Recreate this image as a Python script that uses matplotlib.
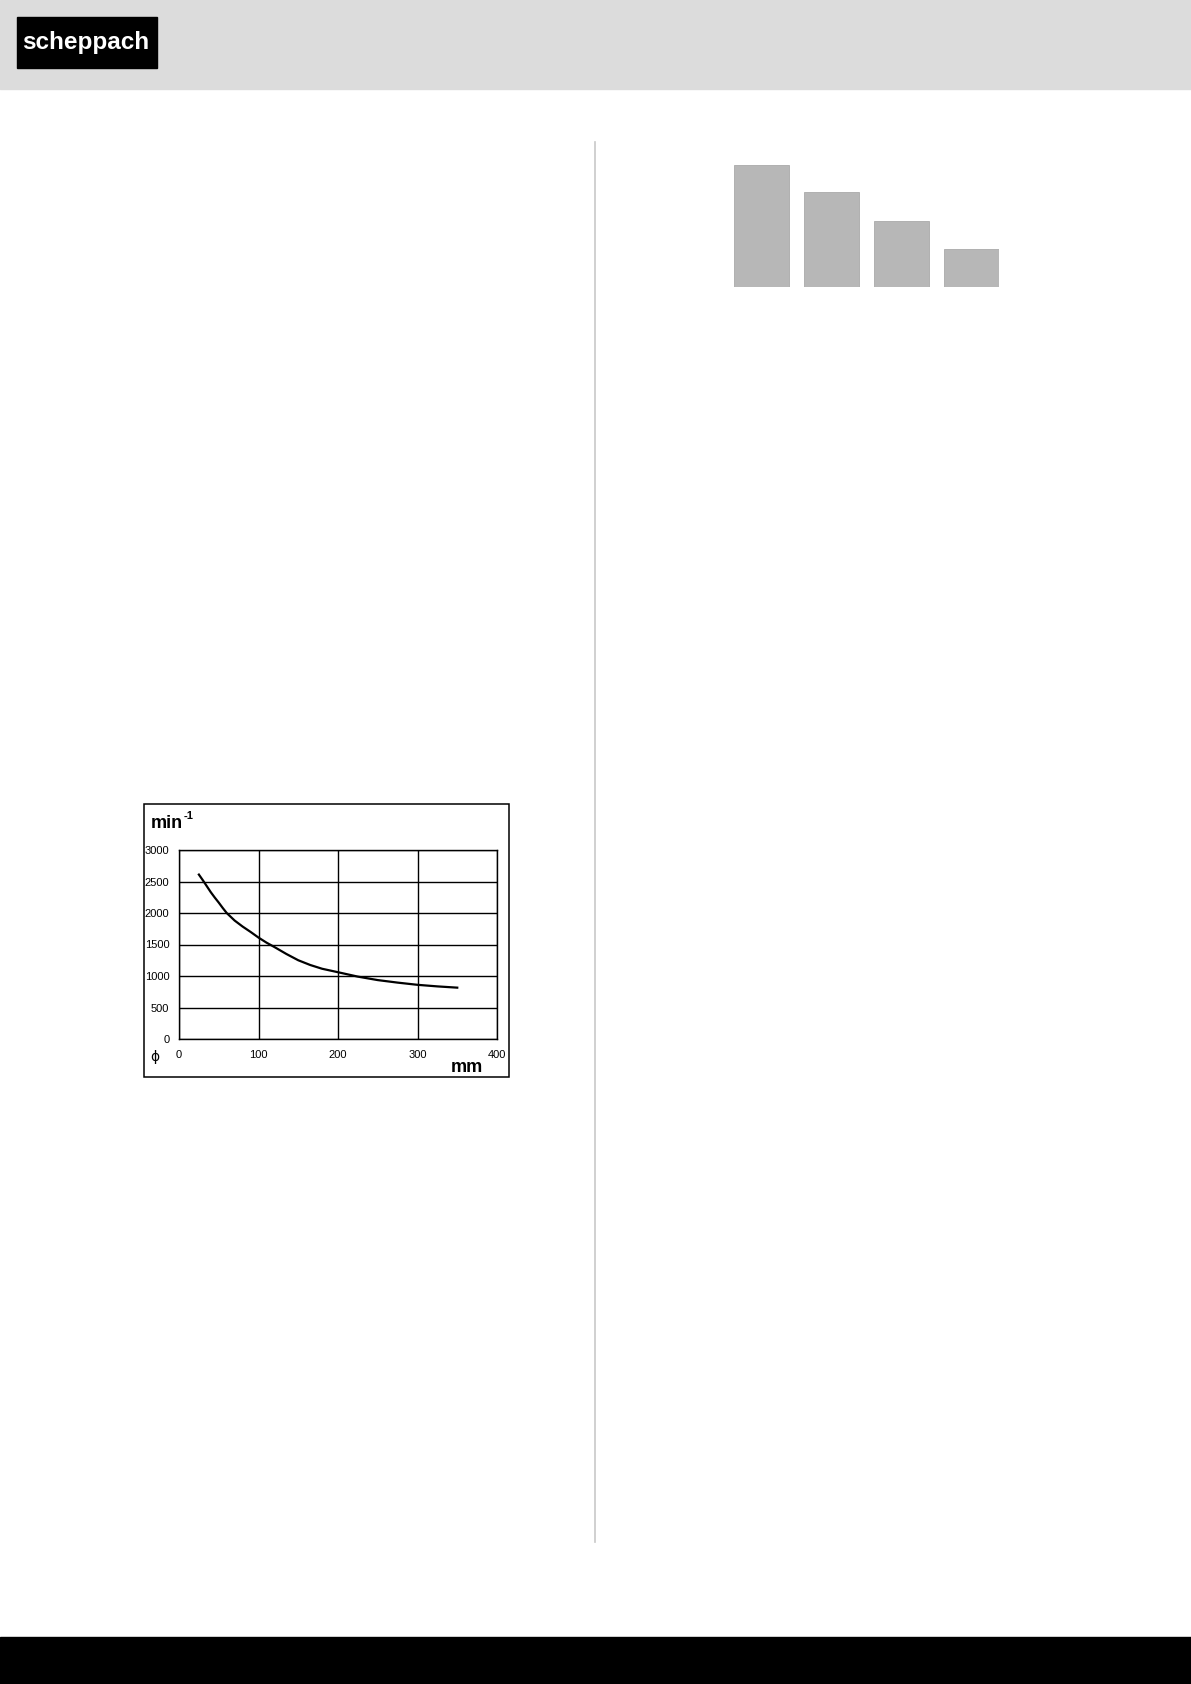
import matplotlib
matplotlib.use("Agg")
import matplotlib.pyplot as plt
from matplotlib.patches import Rectangle

plt.rcParams['font.family'] = ['Liberation Sans', 'DejaVu Sans']

W, H = 1191, 1684

# speed curve: diameter (mm) vs speed (min^-1)
durchmesser = [25, 30, 35, 40, 45, 50, 55, 60, 70, 80, 90, 100, 110, 120, 135, 150,
               165, 180, 200, 225, 250, 275, 300, 325, 350]
drehzahl = [2610, 2520, 2425, 2330, 2245, 2165, 2080, 2000, 1880, 1785, 1700, 1610, 1530,
            1460, 1350, 1250, 1175, 1115, 1060, 990, 935, 895, 860, 835, 815]
x_ticks = [0, 100, 200, 300, 400]
y_ticks = [0, 500, 1000, 1500, 2000, 2500, 3000]

# grey bars top right
balken = [122, 95, 66, 38]


def px_axes(x0, y0, x1, y1):
    # pixel box (top-left origin) -> figure axes
    return fig.add_axes([x0 / W, 1 - y1 / H, (x1 - x0) / W, (y1 - y0) / H])


fig = plt.figure(figsize=(W / 100, H / 100), dpi=100)

# header band + logo
fig.patches.append(Rectangle((0, 1 - 89 / H), 1, 89 / H, transform=fig.transFigure,
                             color='#dcdcdc', zorder=0))
fig.patches.append(Rectangle((17 / W, 1 - 68 / H), 140 / W, 51 / H, transform=fig.transFigure,
                             color='black', zorder=1))
fig.text(86 / W, 1 - 43 / H, 'scheppach', color='white', fontsize=17.5, fontweight='bold',
         ha='center', va='center', zorder=2)

# footer band
fig.patches.append(Rectangle((0, 0), 1, (H - 1637) / H, transform=fig.transFigure,
                             color='black', zorder=0))

# column divider
fig.add_artist(plt.Line2D([595 / W, 595 / W], [1 - 142 / H, 1 - 1542 / H],
                          transform=fig.transFigure, color='#c8c8c8', lw=1.2))

# bars
axb = px_axes(734, 165, 999, 287)
axb.bar(range(len(balken)), balken, width=0.786, color='#b7b7b7', edgecolor='#aaaaaa', lw=0.6)
axb.set_xlim(-0.393, 3.393)
axb.set_ylim(0, 122)
axb.axis('off')

# chart frame
fig.patches.append(Rectangle((144 / W, 1 - 1077 / H), (509 - 144) / W, (1077 - 804) / H,
                             transform=fig.transFigure, fill=False, edgecolor='black', lw=1.1))

ax = px_axes(179, 850, 497, 1039)
ax.plot(durchmesser, drehzahl, color='black', lw=1.6)
ax.set_xlim(0, 400)
ax.set_ylim(0, 3000)
ax.set_xticks(x_ticks)
ax.set_yticks(y_ticks)
ax.grid(True, color='black', lw=1.0)
ax.tick_params(length=0, labelsize=8)
ax.tick_params(axis='y', pad=7)
ax.tick_params(axis='x', pad=8)
for s in ax.spines.values():
    s.set_linewidth(1.0)

fig.text(151 / W, 1 - 823 / H, 'min', fontsize=13, fontweight='bold', va='center', ha='left')
fig.text(184 / W, 1 - 816 / H, '-1', fontsize=8, fontweight='bold', va='center', ha='left')
fig.text(451 / W, 1 - 1067 / H, 'mm', fontsize=13, fontweight='bold', va='center', ha='left')
fig.text(155 / W, 1 - 1057 / H, '\u03d5', fontsize=10, family=['DejaVu Sans'],
         va='center', ha='center')

fig.savefig('out.png', dpi=100)
